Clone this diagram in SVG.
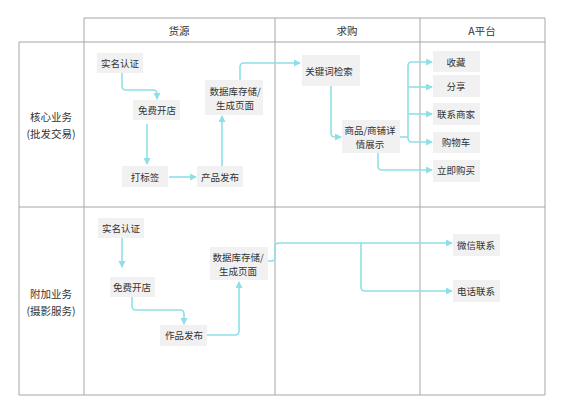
<svg xmlns="http://www.w3.org/2000/svg" width="565" height="412" viewBox="0 0 565 412">
<style>
.grid{stroke:#a6a6a6;stroke-width:1;fill:none}
.box{fill:#f1f1f2}
.t{font-family:"Noto Sans CJK SC","Noto Sans",sans-serif;font-size:9.5px;fill:#333;text-anchor:middle;dominant-baseline:central}
.h{font-family:"Noto Sans CJK SC","Noto Sans",sans-serif;font-size:10.5px;fill:#333;text-anchor:middle;dominant-baseline:central}
.c{fill:none;stroke:#8fe0e6;stroke-width:1.6}
.a{marker-end:url(#arr)}
</style>
<defs>
<marker id="arr" markerUnits="userSpaceOnUse" markerWidth="8" markerHeight="8" refX="6" refY="3.5" orient="auto">
<path d="M0,0 L7,3.5 L0,7 z" fill="#8fe0e6"/>
</marker>
</defs>
<rect width="565" height="412" fill="#fff"/>
<g id="table">
<path class="grid" d="M84,18 H545 V395 H19 V42 H545 M84,18 V395 M275,18 V395 M420,18 V395 M19,207 H545"/>
<text class="h" x="179" y="30">货源</text>
<text class="h" x="347" y="30">求购</text>
<text class="h" x="482" y="30">A平台</text>
<text class="h" x="51" y="116">核心业务</text>
<text class="h" x="51" y="133">(批发交易)</text>
<text class="h" x="51" y="293">附加业务</text>
<text class="h" x="51" y="310">(摄影服务)</text>
</g>
<g id="connectors">
<path class="c a" d="M122,73 V86 Q122,90 126,90 H153 Q157,90 157,94 V99"/>
<path class="c a" d="M147,124 V164"/>
<path class="c a" d="M169,177 H196"/>
<path class="c a" d="M222,166 V116"/>
<path class="c a" d="M240,80 V67 Q240,63 244,63 H300"/>
<path class="c a" d="M331,86 V133 Q331,137 335,137 H341"/>
<path class="c a" d="M378,153 V166 Q378,170 382,170 H432"/>
<path class="c" d="M400,137 H408"/>
<path class="c a" d="M408,100 V66 Q408,62 412,62 H432"/>
<path class="c a" d="M408,100 V138 Q408,142 412,142 H432"/>
<path class="c a" d="M408,87 H432"/>
<path class="c a" d="M408,114 H432"/>
<path class="c a" d="M122,238 V267"/>
<path class="c a" d="M132,297 V306 Q132,310 136,310 H180 Q184,310 184,314 V324"/>
<path class="c a" d="M207,335 H235 Q239,335 239,331 V282"/>
<path class="c a" d="M268,261 H271 Q275,261 275,257 V247 Q275,243 279,243 H452"/>
<path class="c a" d="M361,243 V287 Q361,291 365,291 H452"/>
</g>
<g id="n1"><rect class="box" x="97" y="53" width="46" height="20"/><text class="t" x="120" y="63">实名认证</text></g>
<g id="n2"><rect class="box" x="133" y="100" width="47" height="20"/><text class="t" x="157" y="110">免费开店</text></g>
<g id="n3"><rect class="box" x="122" y="166" width="46" height="21"/><text class="t" x="145" y="177">打标签</text></g>
<g id="n4"><rect class="box" x="197" y="166" width="46" height="21"/><text class="t" x="220" y="177">产品发布</text></g>
<g id="n5"><rect class="box" x="205" y="80" width="58" height="35"/><text class="t" x="235" y="91">数据库存储/</text><text class="t" x="235" y="105">生成页面</text></g>
<g id="n6"><rect class="box" x="302" y="55" width="58" height="31"/><text class="t" x="329" y="71">关键词检索</text></g>
<g id="n7"><rect class="box" x="342" y="120" width="58" height="33"/><text class="t" x="370" y="130">商品/商铺详</text><text class="t" x="370" y="144">情展示</text></g>
<g id="n8"><rect class="box" x="433" y="51" width="47" height="21"/><text class="t" x="456" y="62">收藏</text></g>
<g id="n9"><rect class="box" x="433" y="75" width="47" height="22"/><text class="t" x="456" y="86">分享</text></g>
<g id="n10"><rect class="box" x="433" y="103" width="47" height="22"/><text class="t" x="456" y="114">联系商家</text></g>
<g id="n11"><rect class="box" x="433" y="132" width="47" height="21"/><text class="t" x="456" y="142">购物车</text></g>
<g id="n12"><rect class="box" x="433" y="160" width="47" height="22"/><text class="t" x="456" y="170">立即购买</text></g>
<g id="m1"><rect class="box" x="98" y="218" width="46" height="20"/><text class="t" x="121" y="228">实名认证</text></g>
<g id="m2"><rect class="box" x="110" y="277" width="45" height="20"/><text class="t" x="132" y="287">免费开店</text></g>
<g id="m3"><rect class="box" x="160" y="325" width="47" height="21"/><text class="t" x="184" y="335">作品发布</text></g>
<g id="m4"><rect class="box" x="210" y="247" width="58" height="33"/><text class="t" x="238" y="257">数据库存储/</text><text class="t" x="238" y="271">生成页面</text></g>
<g id="m5"><rect class="box" x="453" y="234" width="47" height="22"/><text class="t" x="476" y="245">微信联系</text></g>
<g id="m6"><rect class="box" x="453" y="280" width="47" height="22"/><text class="t" x="476" y="291">电话联系</text></g>
</svg>
